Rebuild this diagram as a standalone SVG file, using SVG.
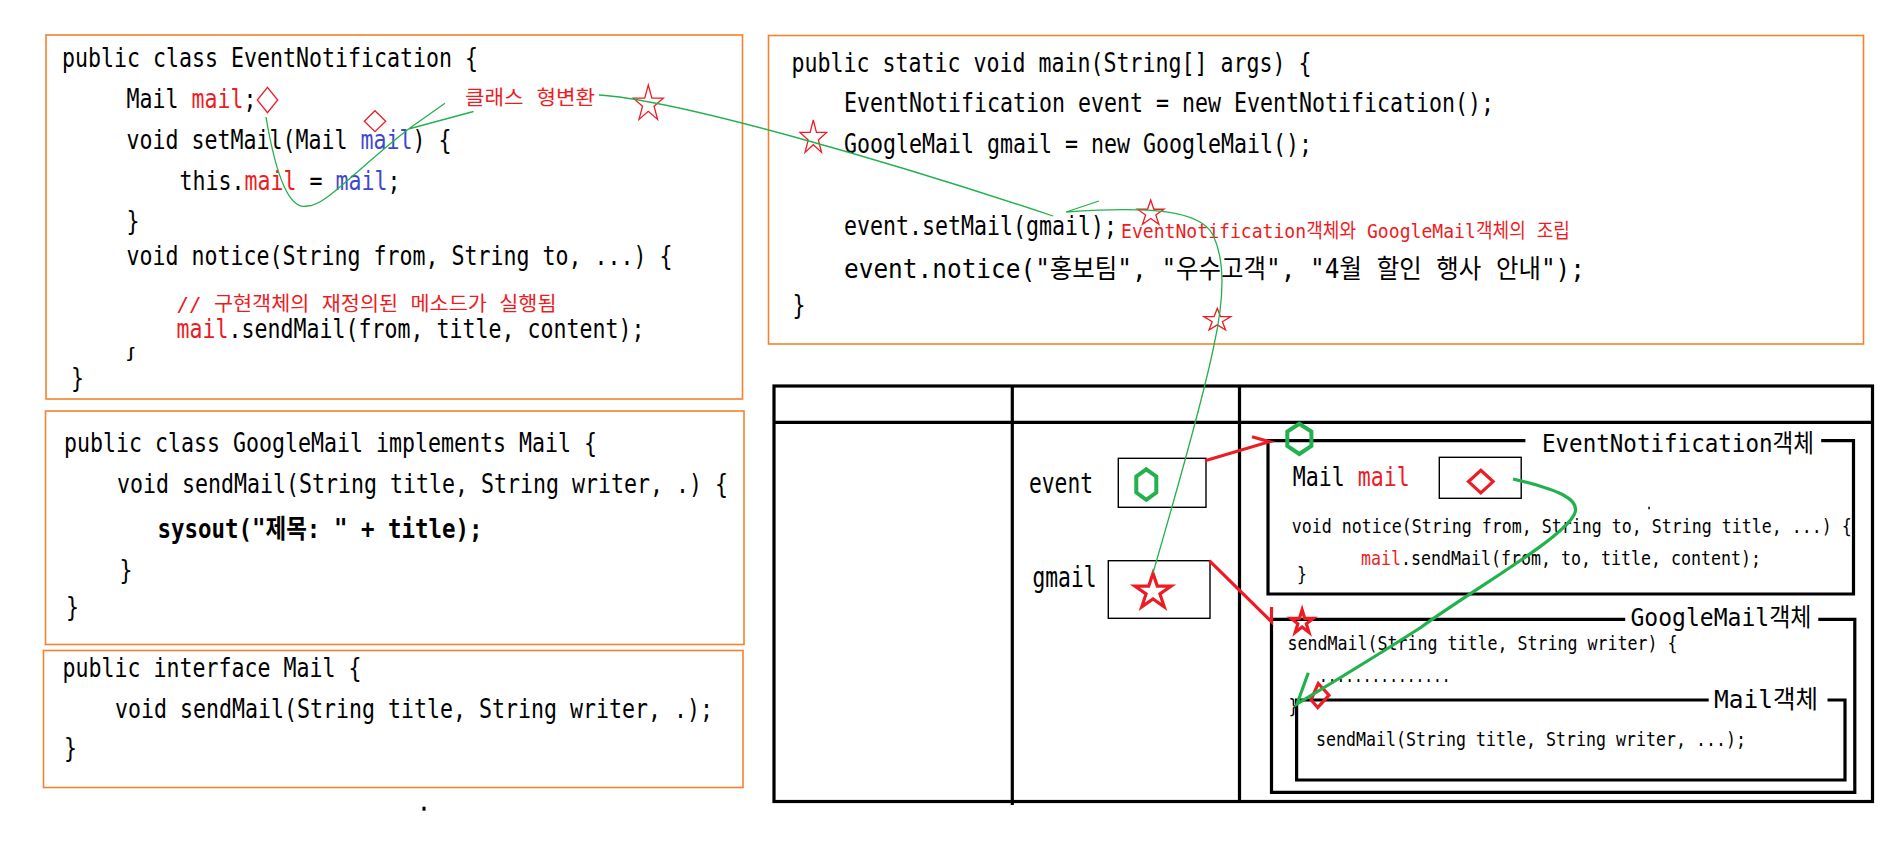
<svg xmlns="http://www.w3.org/2000/svg" width="1898" height="868" viewBox="0 0 1898 868">
<style>
.c{font-family:'DejaVu Sans Mono','Noto Sans CJK KR',monospace;font-size:26px;fill:#000}
.s{font-size:20px}
.lb{font-size:25px}
.r{fill:#ED1C24}
.b{fill:#3F48CC}
.box{fill:none;stroke:#F4812F;stroke-width:1.6}
.tb{fill:none;stroke:#000;stroke-width:3.2}
.thin{fill:none;stroke:#000;stroke-width:1.4}
.gl{fill:none;stroke:#22B14C;stroke-width:1.3}
.gt{fill:none;stroke:#22B14C;stroke-width:3.2}
.rs{fill:none;stroke:#ED1C24;stroke-width:1.3}
.rt{fill:none;stroke:#ED1C24;stroke-width:3.2}
.ht{fill:none;stroke:#22B14C;stroke-width:4}
</style>
<defs>
<polygon id="st" points="0,-1 0.2245,-0.309 0.951,-0.309 0.363,0.118 0.588,0.809 0,0.382 -0.588,0.809 -0.363,0.118 -0.951,-0.309 -0.2245,-0.309" vector-effect="non-scaling-stroke"/>
</defs>
<rect width="1898" height="868" fill="#fff"/>

<g id="box-eventnotification">
<rect class="box" x="46" y="35" width="696.5" height="364"/>
<text class="c" x="62" y="67" textLength="416" lengthAdjust="spacingAndGlyphs">public class EventNotification {</text>
<text class="c" x="126.5" y="108" textLength="130" lengthAdjust="spacingAndGlyphs">Mail <tspan class="r">mail</tspan>;</text>
<text class="c" x="126.5" y="149" textLength="325" lengthAdjust="spacingAndGlyphs">void setMail(Mail <tspan class="b">mail</tspan>) {</text>
<text class="c" x="179.5" y="190" textLength="221" lengthAdjust="spacingAndGlyphs">this.<tspan class="r">mail</tspan> = <tspan class="b">mail</tspan>;</text>
<text class="c" x="126.5" y="230" textLength="13" lengthAdjust="spacingAndGlyphs">}</text>
<text class="c" x="126.5" y="265" textLength="546" lengthAdjust="spacingAndGlyphs">void notice(String from, String to, ...) {</text>
<text class="c s r" x="176.5" y="311" textLength="380" lengthAdjust="spacingAndGlyphs">// 구현객체의 재정의된 메소드가 실행됨</text>
<text class="c" x="176.5" y="338" textLength="468" lengthAdjust="spacingAndGlyphs"><tspan class="r">mail</tspan>.sendMail(from, title, content);</text>
<text class="c" x="126.5" y="358" style="font-size:14px;font-weight:bold">ʃ</text>
<text class="c" x="71" y="387" textLength="13" lengthAdjust="spacingAndGlyphs">}</text>
<polygon class="rs" points="267.5,87.4 277.7,100 267.5,112.6 257.3,100"/>
<polygon class="rs" points="375,110.7 385.7,121.2 375,131.7 364.3,121.2"/>
<text class="c s r" x="465" y="104.5" textLength="130" lengthAdjust="spacingAndGlyphs">클래스 형변환</text>
<use href="#st" class="rs" transform="translate(648.3,104) scale(15.8,19)"/>
</g>

<g id="box-main">
<rect class="box" x="768.5" y="35.5" width="1095" height="308.5"/>
<text class="c" x="791.5" y="72" textLength="520" lengthAdjust="spacingAndGlyphs">public static void main(String[] args) {</text>
<text class="c" x="844" y="111.5" textLength="650" lengthAdjust="spacingAndGlyphs">EventNotification event = new EventNotification();</text>
<text class="c" x="844" y="153" textLength="468" lengthAdjust="spacingAndGlyphs">GoogleMail gmail = new GoogleMail();</text>
<text class="c" x="844" y="235" textLength="273" lengthAdjust="spacingAndGlyphs">event.setMail(gmail);</text>
<text class="c" x="844" y="278" textLength="741" lengthAdjust="spacingAndGlyphs">event.notice("홍보팀", "우수고객", "4월 할인 행사 안내");</text>
<text class="c" x="792.5" y="314" textLength="13" lengthAdjust="spacingAndGlyphs">}</text>
<text class="c s r" x="1121" y="238" textLength="449" lengthAdjust="spacingAndGlyphs">EventNotification객체와 GoogleMail객체의 조립</text>
<use href="#st" class="rs" transform="translate(813.3,137.9) scale(14,17.9)"/>
<use href="#st" class="rs" transform="translate(1150.7,213.4) scale(14,13.4)"/>
<use href="#st" class="rs" transform="translate(1217.3,320.3) scale(14.1,12)"/>
</g>

<g id="box-googlemail">
<rect class="box" x="45.5" y="411" width="698.5" height="233.5"/>
<text class="c" x="64" y="451.5" textLength="533" lengthAdjust="spacingAndGlyphs">public class GoogleMail implements Mail {</text>
<text class="c" x="117" y="493" textLength="611" lengthAdjust="spacingAndGlyphs">void sendMail(String title, String writer, .) {</text>
<text class="c" x="157.5" y="538" textLength="325" lengthAdjust="spacingAndGlyphs" font-weight="bold">sysout("제목: " + title);</text>
<text class="c" x="119.5" y="579" textLength="13" lengthAdjust="spacingAndGlyphs">}</text>
<text class="c" x="66" y="616" textLength="13" lengthAdjust="spacingAndGlyphs">}</text>
</g>

<g id="box-mail">
<rect class="box" x="43.5" y="650.5" width="699.5" height="137"/>
<text class="c" x="62.5" y="676.5" textLength="299" lengthAdjust="spacingAndGlyphs">public interface Mail {</text>
<text class="c" x="115" y="718" textLength="598" lengthAdjust="spacingAndGlyphs">void sendMail(String title, String writer, .);</text>
<text class="c" x="64" y="757" textLength="13" lengthAdjust="spacingAndGlyphs">}</text>
</g>
<rect x="422.5" y="806.7" width="3" height="4" fill="#000"/>

<g id="memory-table">
<rect class="tb" x="774" y="386" width="1098.5" height="415.5"/>
<line class="tb" x1="774" y1="422.3" x2="1872.5" y2="422.3"/>
<line class="tb" x1="1012.3" y1="386" x2="1012.3" y2="805"/>
<line class="tb" x1="1239.5" y1="386" x2="1239.5" y2="801.5"/>
</g>

<g id="var-event">
<text class="c" x="1029" y="492.5" style="font-size:28px" textLength="64" lengthAdjust="spacingAndGlyphs">event</text>
<rect class="thin" x="1118.3" y="458.3" width="87.7" height="49"/>
<polygon class="ht" points="1146.3,469.3 1156.3,476.5 1156.3,492.5 1146.3,499.8 1136.3,492.5 1136.3,476.5"/>
</g>

<g id="var-gmail">
<text class="c" x="1032.5" y="586.5" style="font-size:28px" textLength="64" lengthAdjust="spacingAndGlyphs">gmail</text>
<rect class="thin" x="1108.3" y="560.7" width="101.7" height="57.6"/>
<use href="#st" class="rt" transform="translate(1153,591.8) scale(19.1,18.6)"/>
</g>

<g id="obj-eventnotification">
<polyline class="tb" points="1525.4,440.7 1268,440.7 1268,594 1853.5,594 1853.5,440.7 1821.2,440.7"/>
<text class="c lb" x="1542" y="452" textLength="272" lengthAdjust="spacingAndGlyphs">EventNotification객체</text>
<polygon class="ht" points="1299.3,423.7 1311.4,431.5 1311.4,446 1299.3,454 1287.3,446 1287.3,431.5"/>
<text class="c" x="1292.7" y="486" textLength="117" lengthAdjust="spacingAndGlyphs">Mail <tspan class="r">mail</tspan></text>
<rect class="thin" x="1439.3" y="457.3" width="81.9" height="41"/>
<polygon class="rt" points="1480.8,470.3 1493.1,481.6 1480.8,492.9 1468.5,481.6"/>
<rect x="1648.3" y="506.7" width="1.5" height="2.6" fill="#000"/>
<text class="c s" x="1291.7" y="533" textLength="560" lengthAdjust="spacingAndGlyphs">void notice(String from, String to, String title, ...) {</text>
<text class="c s" x="1361" y="565" textLength="400" lengthAdjust="spacingAndGlyphs"><tspan class="r">mail</tspan>.sendMail(from, to, title, content);</text>
<text class="c s" x="1297" y="581" textLength="10" lengthAdjust="spacingAndGlyphs">}</text>
</g>

<g id="obj-googlemail">
<polyline class="tb" points="1625.2,619.3 1271.5,619.3 1271.5,792.3 1854.8,792.3 1854.8,619.3 1818.3,619.3"/>
<text class="c lb" x="1630.5" y="626" textLength="181" lengthAdjust="spacingAndGlyphs">GoogleMail객체</text>
<use href="#st" class="rt" transform="translate(1302.1,622.3) scale(11.7,12.5)"/>
<text class="c s" x="1287.5" y="650" textLength="390" lengthAdjust="spacingAndGlyphs">sendMail(String title, String writer) {</text>
<text class="c s" x="1319" y="682" textLength="131.5" lengthAdjust="spacingAndGlyphs">...............</text>
<text class="c s" x="1288.5" y="713" textLength="10" lengthAdjust="spacingAndGlyphs">}</text>
</g>

<g id="obj-mail">
<polyline class="tb" points="1708.7,700 1296.6,700 1296.6,780 1845,780 1845,700 1827.5,700"/>
<text class="c lb" x="1714" y="708" textLength="104" lengthAdjust="spacingAndGlyphs">Mail객체</text>
<polygon class="rt" points="1318.3,683.5 1329,695.2 1317.7,707.5 1311,699.8"/>
<text class="c s" x="1316" y="745.5" textLength="430" lengthAdjust="spacingAndGlyphs">sendMail(String title, String writer, ...);</text>
</g>

<g id="connectors">
<path class="gl" d="M266,117 Q282,212 307,206 C325,206 350,175 408.5,129"/>
<path class="gl" d="M473.5,111.5 L408.5,129 L445,103.3"/>
<path class="gl" d="M599,95 C680,100 900,165 1053,216"/>
<path class="gl" d="M1099,201 L1066,212 C1150,206 1200,210 1213,235 C1226,262 1224,300 1214,345 C1205,390 1180,480 1153,573"/>
<path class="gt" d="M1513,479 C1560,490 1582,500 1574,515 C1560,540 1480,585 1420,628 C1370,660 1320,690 1297,704 L1308.3,672.7"/>
<path class="rt" d="M1205,460.7 L1269.4,441.7 L1252,436.7"/>
<path class="rt" d="M1209.3,560.7 L1271.5,621.7 L1271.5,607"/>
</g>
</svg>
